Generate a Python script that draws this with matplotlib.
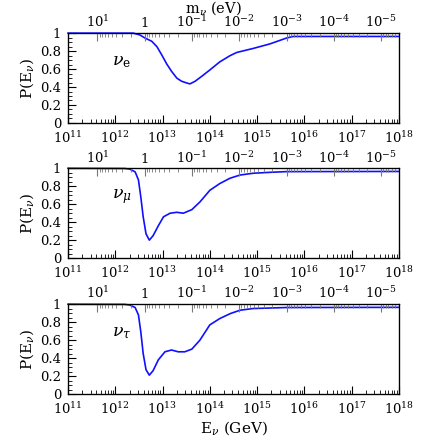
import numpy as np
import matplotlib
matplotlib.use('Agg')
import matplotlib.pyplot as plt
from matplotlib.ticker import FixedLocator, NullFormatter, MultipleLocator

plt.rcParams['font.family'] = 'DejaVu Serif'
plt.rcParams['mathtext.fontset'] = 'dejavuserif'

# resonance energy E = M_Z^2 / (2 m), in GeV for m in eV
E_RES = 4.2e12

# log10(E / GeV) and P(E)
loge_e = [11.0, 12.38, 12.52, 12.63, 12.77, 12.88, 12.98, 13.09, 13.19, 13.3,
          13.4, 13.51, 13.58, 13.69, 13.83, 14.0, 14.21, 14.43, 14.57, 14.92,
          15.27, 15.62, 15.76, 18.0]
p_e = [1.0, 1.0, 0.98, 0.945, 0.91, 0.85, 0.76, 0.655, 0.575, 0.5,
       0.465, 0.445, 0.435, 0.465, 0.52, 0.59, 0.68, 0.75, 0.785, 0.83,
       0.88, 0.945, 0.963, 0.963]

loge_mu = [11.0, 12.2, 12.31, 12.42, 12.49, 12.54, 12.59, 12.65, 12.72, 12.8,
           12.91, 13.02, 13.16, 13.3, 13.44, 13.62, 13.79, 14.0, 14.21, 14.43,
           14.64, 14.92, 15.27, 15.62, 18.0]
p_mu = [1.0, 0.998, 0.99, 0.96, 0.87, 0.68, 0.46, 0.27, 0.2, 0.25,
        0.36, 0.46, 0.5, 0.51, 0.5, 0.54, 0.625, 0.755, 0.83, 0.89,
        0.925, 0.945, 0.955, 0.963, 0.965]

loge_tau = [11.0, 12.2, 12.31, 12.42, 12.49, 12.54, 12.59, 12.65, 12.72, 12.8,
            12.91, 13.05, 13.19, 13.33, 13.47, 13.62, 13.79, 14.0, 14.21, 14.43,
            14.64, 14.92, 15.62, 18.0]
p_tau = [1.0, 0.998, 0.99, 0.963, 0.88, 0.69, 0.45, 0.27, 0.21, 0.26,
         0.38, 0.47, 0.49, 0.47, 0.47, 0.5, 0.6, 0.77, 0.84, 0.895,
         0.933, 0.952, 0.963, 0.965]

labels = [r'$\nu_{\rm e}$', r'$\nu_\mu$', r'$\nu_\tau$']
curves = [(loge_e, p_e), (loge_mu, p_mu), (loge_tau, p_tau)]

e_major = [10.0 ** k for k in range(11, 19)]
e_labels = [r'$10^{%d}$' % k for k in range(11, 19)]
m_major = [10.0 ** k for k in range(1, -6, -1)]
m_labels = [r'$10^{1}$', '1'] + [r'$10^{%d}$' % k for k in range(-1, -6, -1)]

fig = plt.figure(figsize=(4.36, 4.36), dpi=100)
bottoms = [0.718, 0.408, 0.0963]
fs = 9.5

for i, (loge, p) in enumerate(curves):
    ax = fig.add_axes([0.156, bottoms[i], 0.759, 0.206])
    E = 10.0 ** np.array(loge)
    ax.plot(E, p, color='#1010ff', lw=1.2, clip_on=False, zorder=5)
    ax.set_xscale('log')
    ax.set_xlim(1e11, 1e18)
    ax.set_ylim(0, 1)

    ax.xaxis.set_major_locator(FixedLocator(e_major))
    ax.set_xticklabels(e_labels, fontsize=fs)
    e_minor = [k * 10.0 ** n for n in range(11, 18) for k in range(2, 10)]
    ax.xaxis.set_minor_locator(FixedLocator(e_minor))
    ax.xaxis.set_minor_formatter(NullFormatter())
    ax.yaxis.set_minor_locator(MultipleLocator(0.05))
    ax.set_yticks([0, 0.2, 0.4, 0.6, 0.8, 1.0])
    ax.set_yticklabels(['0', '0.2', '0.4', '0.6', '0.8', '1'], fontsize=fs)
    ax.tick_params(which='major', direction='in', length=6, width=0.8)
    ax.tick_params(which='minor', direction='in', length=3, width=0.6)
    ax.tick_params(axis='x', pad=5)
    ax.tick_params(axis='y', pad=5)
    ax.set_ylabel(r'P(E$_\nu$)', fontsize=11, labelpad=3)
    for s in ax.spines.values():
        s.set_linewidth(0.9)

    ax.text(0.133, 0.68, labels[i], transform=ax.transAxes, fontsize=12.5,
            va='center')

    # upper axis: neutrino mass giving the Z resonance at E
    top = ax.twiny()
    top.set_xscale('log')
    top.set_xlim(1e11, 1e18)
    top.xaxis.set_major_locator(FixedLocator([E_RES / m for m in m_major]))
    top.set_xticklabels(m_labels, fontsize=fs)
    m_minor = [k * 10.0 ** n for n in range(-6, 1) for k in range(2, 10)]
    top.xaxis.set_minor_locator(FixedLocator([E_RES / m for m in m_minor
                                              if 1e11 < E_RES / m < 1e18]))
    top.xaxis.set_minor_formatter(NullFormatter())
    top.tick_params(which='major', direction='in', length=6, width=0.8,
                    color='#777777', pad=2)
    top.tick_params(which='minor', direction='in', length=3, width=0.6,
                    color='#777777')

fig.text(0.49, 0.982, r'm$_\nu$ (eV)', fontsize=10.5, ha='center',
         va='center')
ax.set_xlabel(r'E$_\nu$ (GeV)', fontsize=11, labelpad=2)

fig.savefig('out.png', dpi=100)
